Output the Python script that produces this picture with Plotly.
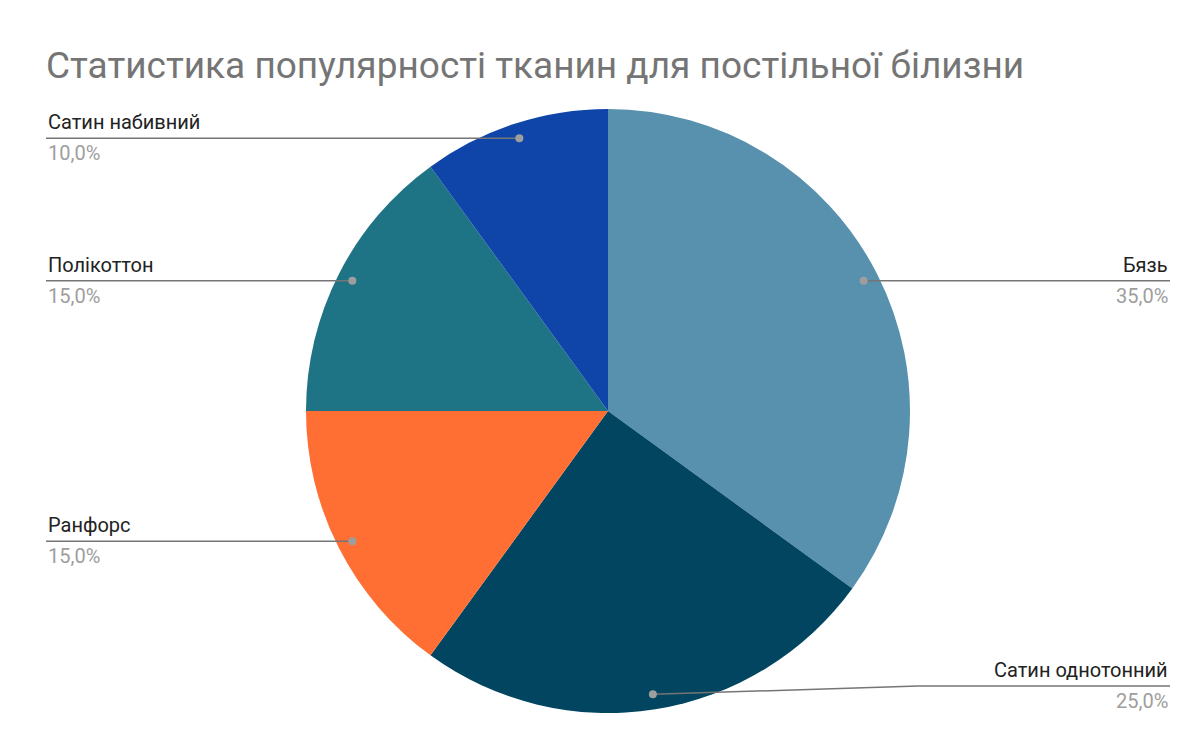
import math
import plotly.graph_objects as go

labels = ["Бязь", "Сатин однотонний", "Ранфорс", "Полікоттон", "Сатин набивний"]
values = [35, 25, 15, 15, 10]
colors = ["#5891ae", "#014560", "#ff6e33", "#1e7485", "#0f45a8"]

W, H = 1200, 742
cx, cy, R = 600, 403, 302

fig = go.Figure(go.Pie(
    labels=labels, values=values, sort=False, direction="clockwise", rotation=0,
    marker=dict(colors=colors, line=dict(width=0)), textinfo="none", hoverinfo="label+percent",
    domain=dict(x=[(cx - R) / W, (cx + R) / W], y=[(H - cy - R) / H, (H - cy + R) / H]),
    showlegend=False,
))

def px(x, y):
    return x / W, 1 - y / H

shapes, anns = [], []
total = sum(values)
cum = 0
for lab, v in zip(labels, values):
    mid = (cum + v / 2) / total * 2 * math.pi
    cum += v
    dx, dy = math.sin(mid), -math.cos(mid)
    x0, y0 = cx + 0.95 * R * dx, cy + 0.95 * R * dy
    right = dx > 0
    ly = y0 if y0 < 670 else 678
    xe = 1162 if right else 38
    pts = [(x0, y0)]
    if ly != y0:
        pts.append((910, ly))
    pts.append((xe, ly))
    for (a, b), (c, d) in zip(pts[:-1], pts[1:]):
        p1, p2 = px(a, b), px(c, d)
        shapes.append(dict(type="line", xref="paper", yref="paper", x0=p1[0], y0=p1[1],
                           x1=p2[0], y1=p2[1], line=dict(color="#757575", width=1.5)))
    shapes.append(dict(type="circle", xref="paper", yref="paper",
                       x0=(x0 - 4) / W, x1=(x0 + 4) / W, y0=1 - (y0 + 4) / H, y1=1 - (y0 - 4) / H,
                       fillcolor="#9e9e9e", line=dict(width=0)))
    ax, ay = px(xe, ly)
    xa = "right" if right else "left"
    anns.append(dict(xref="paper", yref="paper", x=ax, y=ay + 2 / H, text=lab, showarrow=False,
                     xanchor=xa, yanchor="bottom", font=dict(size=20, color="#222222")))
    anns.append(dict(xref="paper", yref="paper", x=ax, y=ay - 1 / H,
                     text=f"{v / total * 100:.1f}%".replace(".", ","), showarrow=False,
                     xanchor=xa, yanchor="top", font=dict(size=20, color="#9e9e9e")))

anns.append(dict(xref="paper", yref="paper", x=36 / W, y=1 - 57 / H,
                 text="Статистика популярності тканин для постільної білизни", showarrow=False,
                 xanchor="left", yanchor="middle", font=dict(size=37, color="#757575")))

fig.update_layout(width=W, height=H, margin=dict(l=0, r=0, t=0, b=0),
                  paper_bgcolor="white", plot_bgcolor="white",
                  font=dict(family="Roboto, Arial, sans-serif"),
                  shapes=shapes, annotations=anns)
fig.write_html("out.html")
